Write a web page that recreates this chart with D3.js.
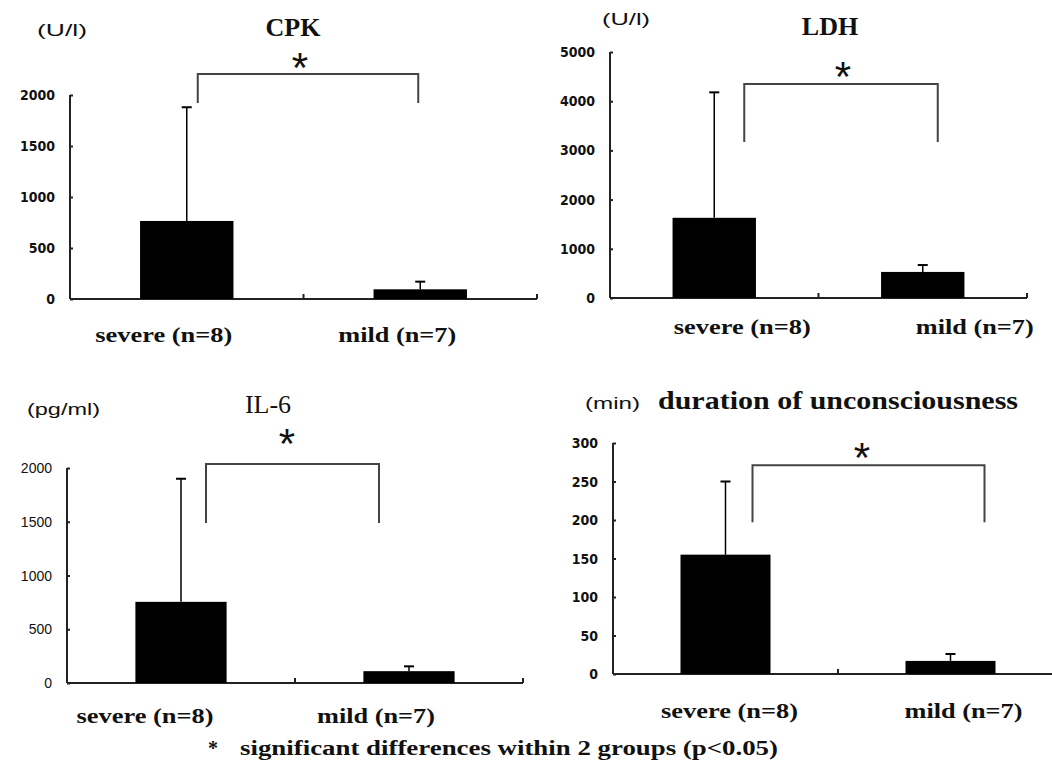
<!DOCTYPE html>
<html>
<head>
<meta charset="utf-8">
<script src="https://cdn.jsdelivr.net/npm/d3@7"></script>
<style>
  html, body { margin: 0; padding: 0; background: #fff; }
  svg { display: block; }
</style>
</head>
<body>
<svg id="chart" width="1052" height="773"></svg>
<script>
// ---------------- DATA ----------------
const groups = ["severe (n=8)", "mild (n=7)"];

const cpkMean = [765, 95];
const cpkSD   = [1115, 75];
const cpkTicks = [0, 500, 1000, 1500, 2000];

const ldhMean = [1630, 530];
const ldhSD   = [2550, 140];
const ldhTicks = [0, 1000, 2000, 3000, 4000, 5000];

const il6Mean = [755, 110];
const il6SD   = [1145, 45];
const il6Ticks = [0, 500, 1000, 1500, 2000];

const durMean = [155, 17];
const durSD   = [95, 9];
const durTicks = [0, 50, 100, 150, 200, 250, 300];

const footnote = "significant differences within 2 groups (p<0.05)";

// ---------------- LAYOUT ----------------
const labelLen = [137, 118];
const panels = [
  { title: "CPK", unit: "(U/l)", mean: cpkMean, sd: cpkSD, ticks: cpkTicks,
    x0: 70, x1: 537, yTop: 95, yZero: 299,
    titleX: 293, titleY: 36, titleAnchor: "middle", titleWeight: "bold",
    unitX: 37, unitY: 36, unitLen: 50,
    tickWeight: "bold",
    labelY: 342, labelOff: [-23, -23],
    bracket: { lo: [11, -2], top: 2206, bottom: 1922 },
    starX: 300, starY: 62 },
  { title: "LDH", unit: "(U/l)", mean: ldhMean, sd: ldhSD, ticks: ldhTicks,
    x0: 610, x1: 1027, yTop: 52, yZero: 298,
    titleX: 830, titleY: 35, titleAnchor: "middle", titleWeight: "bold",
    unitX: 602, unitY: 25, unitLen: 48,
    tickWeight: "bold",
    labelY: 334, labelOff: [28, 52],
    bracket: { lo: [30, 15], top: 4350, bottom: 3171 },
    starX: 843, starY: 71 },
  { title: "IL-6", unit: "(pg/ml)", mean: il6Mean, sd: il6SD, ticks: il6Ticks,
    x0: 67, x1: 523, yTop: 468, yZero: 683,
    titleX: 268, titleY: 413, titleAnchor: "middle", titleWeight: "normal",
    unitX: 27, unitY: 415, unitLen: 73,
    tickWeight: "normal",
    labelY: 723, labelOff: [-36, -33],
    bracket: { lo: [25, -30], top: 2037, bottom: 1488 },
    starX: 287, starY: 438 },
  { title: "duration of unconsciousness", unit: "(min)", mean: durMean, sd: durSD, ticks: durTicks,
    x0: 613, x1: 1063, yTop: 443, yZero: 674,
    titleX: 658, titleY: 409, titleAnchor: "start", titleWeight: "bold", titleLen: 360,
    unitX: 585, unitY: 409, unitLen: 55,
    tickWeight: "bold",
    labelY: 718, labelOff: [4, 13],
    bracket: { lo: [27, 34], top: 271, bottom: 197 },
    starX: 862, starY: 452 }
];

const svg = d3.select("#chart");
const serif = "'Liberation Serif', 'DejaVu Serif', serif";
const sans = "'Liberation Sans', 'DejaVu Sans', sans-serif";
const cond = "'DejaVu Sans Condensed', 'DejaVu Sans', sans-serif";

panels.forEach(p => {
  const g = svg.append("g");
  const maxT = d3.max(p.ticks);
  const y = d3.scaleLinear().domain([0, maxT]).range([p.yZero, p.yTop]);
  const x = d3.scaleBand().domain(groups).range([p.x0, p.x1])
    .paddingInner(0.6).paddingOuter(0.3);
  const step = (p.x1 - p.x0) / groups.length;

  // y axis
  const yAxis = d3.axisRight(y).tickValues(p.ticks).tickSize(3).tickFormat("");
  const ya = g.append("g").attr("transform", `translate(${p.x0},0)`).call(yAxis);
  ya.select(".domain").attr("d", `M0,${p.yTop}V${p.yZero}`).attr("stroke", "#222").attr("stroke-width", 2);
  ya.selectAll(".tick line").attr("stroke", "#222").attr("stroke-width", 2);

  // tick labels
  g.selectAll("text.tl").data(p.ticks).join("text")
    .attr("class", "tl")
    .attr("x", p.x0 - 15)
    .attr("y", d => y(d))
    .attr("dy", "0.36em")
    .attr("text-anchor", "end")
    .attr("font-family", p.tickWeight === "bold" ? cond : sans)
    .attr("font-stretch", "condensed")
    .attr("font-weight", p.tickWeight)
    .attr("font-size", 14)
    .attr("fill", "#111")
    .text(d => d);

  // x axis
  g.append("line").attr("x1", p.x0).attr("x2", Math.min(p.x1, 1052)).attr("y1", p.yZero).attr("y2", p.yZero)
    .attr("stroke", "#222").attr("stroke-width", 2);
  const sepTicks = d3.range(1, groups.length + 1).map(i => p.x0 + i * step);
  g.selectAll("line.xt").data(sepTicks.filter(v => v < 1052)).join("line")
    .attr("class", "xt")
    .attr("x1", d => d).attr("x2", d => d)
    .attr("y1", p.yZero).attr("y2", p.yZero - 5)
    .attr("stroke", "#222").attr("stroke-width", 2);

  // bars
  g.selectAll("rect.bar").data(groups).join("rect")
    .attr("class", "bar")
    .attr("x", d => x(d))
    .attr("width", x.bandwidth())
    .attr("y", (d, i) => y(p.mean[i]))
    .attr("height", (d, i) => p.yZero - y(p.mean[i]))
    .attr("fill", "#000");

  // error bars (upper only)
  const cx = d => x(d) + x.bandwidth() / 2;
  g.selectAll("line.eb").data(groups).join("line")
    .attr("class", "eb")
    .attr("x1", cx).attr("x2", cx)
    .attr("y1", (d, i) => y(p.mean[i]))
    .attr("y2", (d, i) => y(p.mean[i] + p.sd[i]))
    .attr("stroke", "#000").attr("stroke-width", 1.5);
  g.selectAll("line.ec").data(groups).join("line")
    .attr("class", "ec")
    .attr("x1", d => cx(d) - 5).attr("x2", d => cx(d) + 5)
    .attr("y1", (d, i) => y(p.mean[i] + p.sd[i]))
    .attr("y2", (d, i) => y(p.mean[i] + p.sd[i]))
    .attr("stroke", "#000").attr("stroke-width", 2);

  // category labels
  g.selectAll("text.cat").data(groups).join("text")
    .attr("class", "cat")
    .attr("x", (d, i) => cx(d) + p.labelOff[i])
    .attr("y", p.labelY)
    .attr("text-anchor", "middle")
    .attr("font-family", serif)
    .attr("font-weight", "bold")
    .attr("font-size", 22)
    .attr("textLength", (d, i) => labelLen[i])
    .attr("lengthAdjust", "spacingAndGlyphs")
    .attr("fill", "#111")
    .text(d => d);

  // significance bracket
  const bxL = cx(groups[0]) + p.bracket.lo[0];
  const bxR = cx(groups[1]) + p.bracket.lo[1];
  const path = d3.path();
  path.moveTo(bxL, y(p.bracket.bottom));
  path.lineTo(bxL, y(p.bracket.top));
  path.lineTo(bxR, y(p.bracket.top));
  path.lineTo(bxR, y(p.bracket.bottom));
  g.append("path").attr("d", path.toString()).attr("fill", "none")
    .attr("stroke", "#444").attr("stroke-width", 2);

  g.append("text")
    .attr("x", p.starX).attr("y", p.starY)
    .attr("dy", "0.47em")
    .attr("text-anchor", "middle")
    .attr("font-family", sans)
    .attr("font-size", 42)
    .attr("fill", "#111")
    .text("*");

  // title
  const t = g.append("text")
    .attr("x", p.titleX).attr("y", p.titleY)
    .attr("text-anchor", p.titleAnchor)
    .attr("font-family", serif)
    .attr("font-weight", p.titleWeight)
    .attr("font-size", p.titleLen ? 25 : 26)
    .attr("fill", "#111")
    .text(p.title);
  if (p.titleLen) t.attr("textLength", p.titleLen).attr("lengthAdjust", "spacingAndGlyphs");

  // unit
  g.append("text")
    .attr("x", p.unitX).attr("y", p.unitY)
    .attr("font-family", sans)
    .attr("font-size", 16)
    .attr("textLength", p.unitLen)
    .attr("lengthAdjust", "spacingAndGlyphs")
    .attr("fill", "#111")
    .text(p.unit);
});

// footnote
svg.append("text").attr("x", 213).attr("y", 755)
  .attr("text-anchor", "middle")
  .attr("font-family", serif).attr("font-weight", "bold").attr("font-size", 20)
  .attr("fill", "#111").text("*");
svg.append("text").attr("x", 240).attr("y", 755)
  .attr("font-family", serif).attr("font-weight", "bold").attr("font-size", 20)
  .attr("textLength", 538).attr("lengthAdjust", "spacingAndGlyphs")
  .attr("fill", "#111").text(footnote);
</script>
</body>
</html>
